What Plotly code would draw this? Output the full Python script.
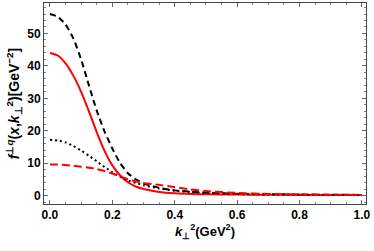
import plotly.graph_objects as go

k2 = [0.0, 0.025, 0.05, 0.075, 0.1, 0.125, 0.15, 0.175, 0.2, 0.225, 0.25, 0.275, 0.3,
      0.35, 0.4, 0.45, 0.5, 0.6, 0.7, 0.8, 0.9, 1.0]
black_dashed = [56.0, 55.2, 52.8, 48.5, 42.0, 34.0, 26.2, 19.8, 14.5, 10.0, 6.9, 5.0, 3.8,
                2.4, 1.6, 1.2, 0.9, 0.55, 0.4, 0.3, 0.25, 0.2]
red_solid = [44.0, 43.2, 40.8, 37.0, 32.0, 26.0, 19.6, 13.8, 9.3, 6.2, 4.1, 2.8, 2.0,
             1.1, 0.7, 0.5, 0.4, 0.3, 0.25, 0.2, 0.2, 0.2]
black_dotted = [17.2, 17.0, 16.4, 15.3, 13.9, 12.3, 10.6, 8.8, 7.2, 5.8, 4.7, 3.9, 3.2,
                2.2, 1.5, 1.1, 0.8, 0.5, 0.35, 0.25, 0.2, 0.15]
red_dashed = [9.6, 9.55, 9.4, 9.2, 8.9, 8.6, 8.2, 7.6, 6.8, 5.9, 5.0, 4.4, 3.9,
              3.3, 2.6, 1.9, 1.4, 0.8, 0.5, 0.35, 0.25, 0.2]

x_ticks = [0.0, 0.2, 0.4, 0.6, 0.8, 1.0]
x_tick_labels = ["0.0", "0.2", "0.4", "0.6", "0.8", "1.0"]
y_ticks = [0, 10, 20, 30, 40, 50]

fig = go.Figure()
series = [
    (black_dashed, "black", "6px,4px"),
    (red_solid, "red", "solid"),
    (black_dotted, "black", "2px,3px"),
    (red_dashed, "red", "8px,4px"),
]
for ys, col, dash in series:
    fig.add_trace(go.Scatter(x=k2, y=ys, mode="lines",
                             line=dict(color=col, dash=dash, width=2, shape="spline", smoothing=0.5),
                             showlegend=False, hoverinfo="skip"))

FAM = "Liberation Sans, Arial, sans-serif"
font = dict(family=FAM, size=12, color="black")
axis_common = dict(showgrid=False, zeroline=False, showline=True, linecolor="#444", linewidth=1,
                   mirror="allticks", ticks="inside", ticklen=4, tickcolor="#666", tickwidth=1,
                   automargin=False, tickfont=dict(family=FAM, size=12, color="black"))

fig.update_layout(
    width=374, height=251,
    margin=dict(l=44, r=8, t=3, b=47),
    paper_bgcolor="white", plot_bgcolor="white",
    font=font,
    xaxis=dict(range=[-0.019, 1.013], tickvals=x_ticks, ticktext=[f"<b>{t}</b>" for t in x_tick_labels],
               minor=dict(ticks="inside", ticklen=2, dtick=0.05, tickcolor="#888"),
               title=dict(text="<b><i>k</i><sub>⊥</sub><sup>2</sup>(GeV<sup>2</sup>)</b>", standoff=4,
                          font=dict(family=FAM, size=13, color="black")),
               **axis_common),
    yaxis=dict(range=[-2.6, 59.4], tickvals=y_ticks, ticktext=[f"<b>{t}</b>" for t in y_ticks],
               minor=dict(ticks="inside", ticklen=2, dtick=2, tickcolor="#888"),
               title=dict(text="<b><i>f</i><sup>⊥<i>q</i></sup>(<i>x</i>,<i>k</i><sub>⊥</sub><sup>2</sup>)[GeV<sup>−2</sup>]</b>",
                          standoff=4, font=dict(family=FAM, size=14, color="black")),
               **axis_common),
)

fig.write_html("out.html", config={"displayModeBar": False},
               post_script="document.body.style.margin='0';document.body.style.padding='0';")
